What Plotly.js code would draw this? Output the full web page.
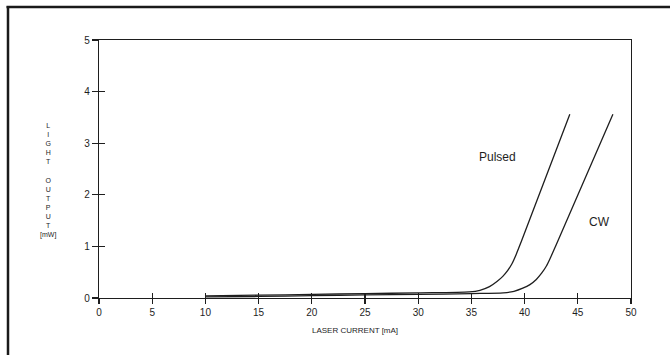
<!DOCTYPE html>
<html>
<head>
<meta charset="utf-8">
<script src="https://cdn.plot.ly/plotly-3.0.1.min.js"></script>
<style>
html,body{margin:0;padding:0;background:#fff;}
#chart{width:670px;height:355px;}
</style>
</head>
<body>
<div id="chart"></div>
<script>
// Data
const pulsedCurrent = [10, 15, 20, 25, 30, 34.8, 35.8, 36.7, 37.4, 37.95, 38.4, 38.8, 39.2, 39.7, 44.25];
const pulsedPower   = [0.04, 0.055, 0.07, 0.085, 0.10, 0.12, 0.15, 0.22, 0.32, 0.42, 0.53, 0.66, 0.84, 1.10, 3.56];
const cwCurrent = [10, 15, 20, 25, 30, 35, 38.0, 39.0, 39.83, 40.5, 41.1, 41.6, 42.05, 42.45, 42.9, 48.3];
const cwPower   = [0.02, 0.03, 0.045, 0.06, 0.07, 0.085, 0.10, 0.13, 0.19, 0.26, 0.36, 0.48, 0.62, 0.79, 1.0, 3.56];
const xTicks = [0, 5, 10, 15, 20, 25, 30, 35, 40, 45, 50];
const yTicks = [0, 1, 2, 3, 4, 5];
const seriesLabels = ['Pulsed', 'CW'];
const labelPos = {Pulsed: [37.45, 2.74], CW: [47.0, 1.48]};

const FONT = 'Liberation Sans, Arial, Helvetica, sans-serif';
const INK = '#1e1e1e';

const traces = [
  {x: pulsedCurrent, y: pulsedPower, mode: 'lines', name: 'Pulsed',
   line: {color: INK, width: 1.3, shape: 'spline', smoothing: 0.8}},
  {x: cwCurrent, y: cwPower, mode: 'lines', name: 'CW',
   line: {color: INK, width: 1.3, shape: 'spline', smoothing: 0.8}},
  {x: [], y: [], xaxis: 'x2', yaxis: 'y2', mode: 'lines', showlegend: false}
];

const axisCommon = {showgrid: false, zeroline: false, fixedrange: true};

const PL = 99, PR = 39, PT = 40, PB = 57, W = 670, H = 355;
const pw = W - PL - PR, ph = H - PT - PB;
const px = v => (v - PL) / pw;
const py = v => (H - PB - v) / ph;

const layout = {
  width: W, height: H,
  margin: {l: PL, r: PR, t: PT, b: PB, pad: 0},
  paper_bgcolor: '#fff', plot_bgcolor: '#fff',
  showlegend: false,
  font: {family: FONT, color: INK, size: 10},
  xaxis: Object.assign({}, axisCommon, {
    range: [0, 50], tickvals: xTicks, ticktext: xTicks.map(String),
    ticks: 'outside', ticklen: 5, tickwidth: 1.2, tickcolor: INK,
    showline: true, mirror: true, linecolor: INK, linewidth: 1.3,
    tickfont: {family: FONT, size: 10, color: INK}
  }),
  yaxis: Object.assign({}, axisCommon, {
    range: [0, 5], tickvals: yTicks, ticktext: yTicks.map(String),
    ticks: 'outside', ticklen: 6, tickwidth: 1.2, tickcolor: INK,
    showline: true, mirror: true, linecolor: INK, linewidth: 1.3,
    tickfont: {family: FONT, size: 10, color: INK}
  }),
  xaxis2: Object.assign({}, axisCommon, {
    range: [0, 50], tickvals: xTicks, overlaying: 'x', anchor: 'y2', side: 'bottom',
    ticks: 'inside', ticklen: 5, tickwidth: 1.2, tickcolor: INK,
    showticklabels: false, showline: false
  }),
  yaxis2: Object.assign({}, axisCommon, {
    range: [0, 5], tickvals: yTicks.slice(0, -1), overlaying: 'y', anchor: 'x2', side: 'left',
    ticks: 'inside', ticklen: 6, tickwidth: 1.2, tickcolor: INK,
    showticklabels: false, showline: false
  }),
  annotations: [
    ...seriesLabels.map(s => ({
      text: s, x: labelPos[s][0], y: labelPos[s][1], xref: 'x', yref: 'y',
      showarrow: false, font: {family: FONT, size: 12, color: INK},
      xanchor: 'center', yanchor: 'middle'
    })),
    {text: 'LASER CURRENT [mA]', xref: 'paper', yref: 'paper',
     x: px(355), y: py(330.5), xanchor: 'center', yanchor: 'middle', showarrow: false,
     font: {family: FONT, size: 8, color: INK}},
    {text: 'L<br>I<br>G<br>H<br>T<br> <br>O<br>U<br>T<br>P<br>U<br>T<br>[mW]',
     xref: 'paper', yref: 'paper', x: px(48), y: py(180.5),
     xanchor: 'center', yanchor: 'middle', align: 'center', showarrow: false,
     font: {family: FONT, size: 7, color: INK}}
  ],
  shapes: [
    {type: 'line', xref: 'paper', yref: 'paper', x0: px(6.5), x1: px(680), y0: py(7), y1: py(7),
     line: {color: '#1a1a1a', width: 2.5}},
    {type: 'line', xref: 'paper', yref: 'paper', x0: px(8), x1: px(8), y0: py(6), y1: py(360),
     line: {color: '#1a1a1a', width: 2.5}}
  ]
};

Plotly.newPlot('chart', traces, layout, {staticPlot: true, displayModeBar: false});
</script>
</body>
</html>
